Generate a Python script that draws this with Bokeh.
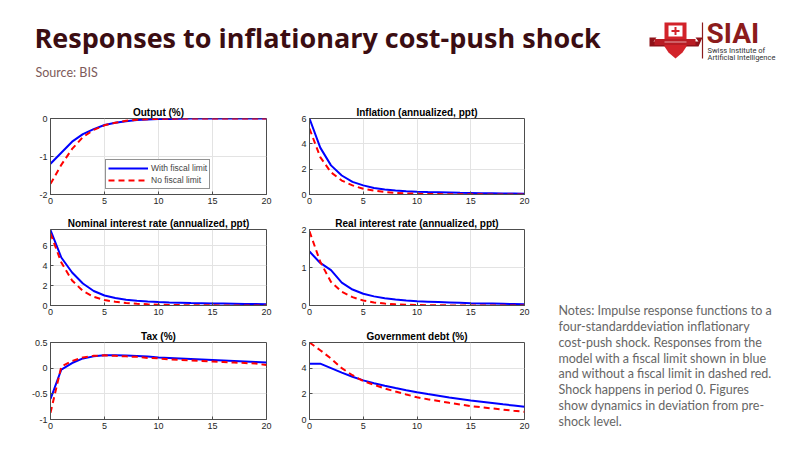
from bokeh.plotting import figure
from bokeh.layouts import column, row
from bokeh.models import Range1d
from bokeh.core.properties import value
from bokeh.embed import file_html
from bokeh.resources import INLINE

# impulse responses, periods 0..20
periods = list(range(21))

output_with = [-1.19, -0.90, -0.61, -0.41, -0.28, -0.17, -0.11, -0.07, -0.04, -0.025, -0.015,
               -0.01, -0.005, 0, 0, 0, 0, 0, 0, 0, 0]
output_no = [-1.72, -1.22, -0.80, -0.49, -0.30, -0.18, -0.11, -0.06, -0.035, -0.02, -0.01,
             -0.005, 0, 0, 0, 0, 0, 0, 0, 0, 0]

inflation_with = [6.0, 3.7, 2.3, 1.5, 1.0, 0.72, 0.52, 0.40, 0.32, 0.26, 0.22,
                  0.19, 0.17, 0.15, 0.13, 0.12, 0.10, 0.09, 0.08, 0.07, 0.06]
inflation_no = [5.2, 2.95, 1.75, 1.1, 0.72, 0.45, 0.30, 0.20, 0.13, 0.09, 0.06,
                0.04, 0.03, 0.02, 0.015, 0.01, 0.01, 0.005, 0.005, 0, 0]

nominal_with = [7.55, 4.8, 3.3, 2.2, 1.45, 1.0, 0.75, 0.58, 0.47, 0.40, 0.35,
                0.31, 0.28, 0.25, 0.23, 0.21, 0.19, 0.17, 0.15, 0.14, 0.12]
nominal_no = [7.2, 4.3, 2.5, 1.45, 0.87, 0.55, 0.37, 0.25, 0.17, 0.12, 0.08,
              0.06, 0.04, 0.03, 0.02, 0.015, 0.01, 0.01, 0.005, 0.005, 0.0]

real_with = [1.42, 1.12, 0.93, 0.60, 0.42, 0.31, 0.24, 0.19, 0.155, 0.13, 0.11,
             0.10, 0.09, 0.08, 0.07, 0.06, 0.055, 0.05, 0.045, 0.04, 0.035]
real_no = [1.95, 1.15, 0.62, 0.36, 0.22, 0.13, 0.08, 0.05, 0.03, 0.02, 0.012,
           0.008, 0.005, 0.003, 0.002, 0, 0, 0, 0, 0, 0]

tax_with = [-0.60, -0.03, 0.10, 0.19, 0.23, 0.25, 0.25, 0.245, 0.235, 0.225, 0.21,
            0.20, 0.19, 0.18, 0.17, 0.16, 0.15, 0.14, 0.13, 0.12, 0.11]
tax_no = [-0.87, 0.03, 0.14, 0.21, 0.24, 0.25, 0.24, 0.23, 0.22, 0.20, 0.19,
          0.17, 0.16, 0.15, 0.14, 0.13, 0.12, 0.11, 0.10, 0.09, 0.06]

debt_with = [4.35, 4.35, 4.0, 3.65, 3.33, 3.05, 2.83, 2.63, 2.45, 2.28, 2.12,
             1.98, 1.85, 1.72, 1.6, 1.48, 1.38, 1.28, 1.18, 1.09, 1.0]
debt_no = [6.0, 5.4, 4.75, 4.0, 3.45, 3.0, 2.7, 2.42, 2.18, 1.95, 1.73,
           1.58, 1.44, 1.30, 1.17, 1.05, 0.95, 0.86, 0.77, 0.68, 0.6]

x_ticks = [0, 5, 10, 15, 20]

BLUE = "#0000ff"
RED = "#ff0000"
AX = "#4d4d4d"
TICK_FONT = "Liberation Sans"


def panel(title, y_with, y_no, y0, y1, y_ticks, width, height, left, right, top, bottom, legend=False):
    p = figure(width=width, height=height, x_range=Range1d(0, 20), y_range=Range1d(y0, y1),
               output_backend="svg", toolbar_location=None,
               min_border_left=left, min_border_right=right,
               min_border_top=top, min_border_bottom=bottom)
    p.title.text = title
    p.title.text_font = TICK_FONT
    p.title.text_font_size = "10px"
    p.title.text_font_style = "bold"
    p.title.align = "center"
    p.title.standoff = 2
    p.title.text_color = "#000000"

    p.xaxis.ticker = x_ticks
    p.yaxis.ticker = y_ticks
    p.yaxis.major_label_overrides = {t: f"{t:g}" for t in y_ticks}
    for ax in (p.xaxis, p.yaxis):
        ax.axis_line_color = AX
        ax.major_tick_line_color = AX
        ax.major_tick_in = 3
        ax.major_tick_out = 0
        ax.minor_tick_line_color = None
        ax.major_label_text_font = TICK_FONT
        ax.major_label_text_font_size = "9px"
        ax.major_label_text_color = "#262626"
        ax.major_label_standoff = 3
    p.grid.grid_line_color = "#e3e3e3"
    p.outline_line_color = AX
    p.outline_line_alpha = 1

    if legend:
        p.line(periods, y_with, line_color=BLUE, line_width=2, legend_label="With fiscal limit")
        p.line(periods, y_no, line_color=RED, line_width=2, line_dash="6 4", legend_label="No fiscal limit")
        lg = p.legend[0]
        lg.location = (55, 5)
        lg.label_text_font = TICK_FONT
        lg.label_text_font_size = "8.5px"
        lg.glyph_width = 40
        lg.glyph_height = 12
        lg.label_height = 12
        lg.padding = 2
        lg.spacing = 0
        lg.margin = 0
        lg.label_standoff = 3
        lg.border_line_color = "#262626"
        lg.border_line_width = 1
    else:
        p.line(periods, y_with, line_color=BLUE, line_width=2)
        p.line(periods, y_no, line_color=RED, line_width=2, line_dash="6 4")
    return p


p_output = panel("Output (%)", output_with, output_no, -2, 0, [-2, -1, 0],
                 274, 111, 50, 8, 20, 15, legend=True)
p_infl = panel("Inflation (annualized, ppt)", inflation_with, inflation_no, 0, 6, [0, 2, 4, 6],
               260, 111, 35, 10, 20, 15)
p_nom = panel("Nominal interest rate (annualized, ppt)", nominal_with, nominal_no, 0, 7.6, [0, 2, 4, 6],
              274, 113, 50, 8, 20, 17)
p_real = panel("Real interest rate (annualized, ppt)", real_with, real_no, 0, 2, [0, 1, 2],
               260, 113, 35, 10, 20, 17)
p_tax = panel("Tax (%)", tax_with, tax_no, -1, 0.5, [-1, -0.5, 0, 0.5],
              274, 110, 50, 8, 20, 13)
p_debt = panel("Government debt (%)", debt_with, debt_no, 0, 6, [0, 2, 4, 6],
               260, 110, 35, 10, 20, 13)


def blank(width, height, x0, x1, y0, y1):
    p = figure(width=width, height=height, x_range=Range1d(x0, x1), y_range=Range1d(y1, y0),
               x_axis_type=None, y_axis_type=None, output_backend="svg", toolbar_location=None,
               min_border=0)
    p.grid.visible = False
    p.outline_line_color = None
    return p


# header in page coordinates
header = blank(784, 98, 0, 784, 0, 98)
header.text(x=[34], y=[36.5], text=["Responses to inflationary cost-push shock"],
            text_font=value("Open Sans"), text_font_style="bold", text_font_size="27px",
            text_color="#3b0d12", text_baseline="middle")
header.text(x=[35], y=[72], text=["Source: BIS"], text_font=value("Lato"),
            text_font_size="12.5px", text_color="#7d5a5a", text_baseline="middle")

# SIAI logo
header.patch([649, 656, 653, 698, 695, 702, 698, 649], [37, 37, 41, 41, 37, 37, 46, 46],
             fill_color="#8e1219", line_color=None)
header.patch([664, 686, 686, 682, 675, 668, 664], [22, 22, 46, 52, 58, 52, 46],
             fill_color="#d2232a", line_color=None)
header.patch([654, 695, 695, 654], [38.5, 38.5, 44.5, 44.5], fill_color="#b81c24", line_color=None)
header.line([664, 686], [41.5, 41.5], line_color="#f3c9cb", line_width=0.8)
header.patch([668, 682, 682, 668], [25, 25, 36, 36], fill_color="#ffffff", line_color=None)
header.patch([674, 676, 676, 679, 679, 676, 676, 674, 674, 671, 671, 674],
             [26.5, 26.5, 29.5, 29.5, 31.5, 31.5, 34.5, 34.5, 31.5, 31.5, 29.5, 29.5],
             fill_color="#d2232a", line_color=None)
header.line([702, 702], [22, 58], line_color="#8c1c1c", line_width=1.2)
header.text(x=[706], y=[33], text=["SIAI"], text_font=value("Roboto"), text_font_style="bold",
            text_font_size="28px", text_color="#8c1c1c", text_baseline="middle")
header.text(x=[707], y=[50], text=["Swiss Institute of"], text_font=value("Roboto"),
            text_font_size="7.5px", text_color="#333333", text_baseline="middle")
header.text(x=[707], y=[56.5], text=["Artificial Intelligence"], text_font=value("Roboto"),
            text_font_size="7.5px", text_color="#333333", text_baseline="middle")

# notes column in page coordinates
notes_lines = [
    "Notes: Impulse response functions to a",
    "four-standarddeviation inflationary",
    "cost-push shock. Responses from the",
    "model with a fiscal limit shown in blue",
    "and without a fiscal limit in dashed red.",
    "Shock happens in period 0. Figures",
    "show dynamics in deviation from pre-",
    "shock level.",
]
notes_y = [310, 326, 342, 358, 373, 389, 405, 421]
notes = blank(250, 334, 534, 784, 98, 432)
notes.text(x=[558] * len(notes_lines), y=notes_y, text=notes_lines, text_font=value("Lato"),
           text_font_size="12.5px", text_color="#666666", text_baseline="middle")

layout = column(header,
                row(column(p_output, p_nom, p_tax), column(p_infl, p_real, p_debt), notes))

open("out.html", "w").write(file_html(layout, INLINE))
